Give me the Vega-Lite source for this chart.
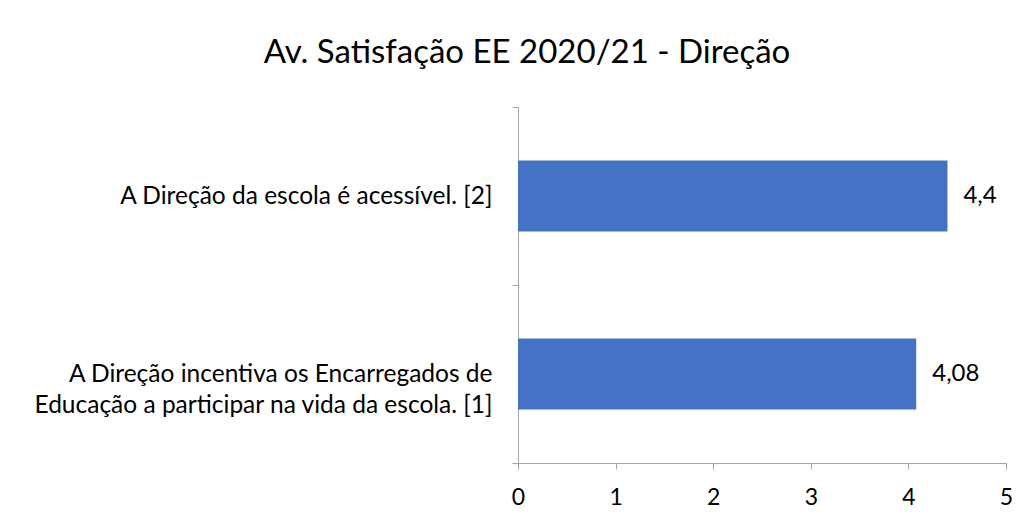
{
  "$schema": "https://vega.github.io/schema/vega-lite/v6.json",
  "autosize": {"type": "none"},
  "padding": {"left": 518, "top": 107, "right": 26, "bottom": 62},
  "width": 488,
  "height": 356,
  "background": "white",
  "config": {
    "font": "Lato",
    "view": {"stroke": null},
    "locale": {"number": {"decimal": ",", "thousands": ".", "grouping": [3], "currency": ["", " €"]}}
  },
  "title": {
    "text": "Av. Satisfação EE 2020/21 - Direção",
    "font": "Lato",
    "fontSize": 33,
    "fontWeight": "normal",
    "color": "#000000",
    "anchor": "middle",
    "frame": "group",
    "baseline": "alphabetic",
    "offset": 42,
    "dy": 44,
    "dx": -235
  },
  "data": {
    "values": [
      {"pergunta": "A Direção da escola é acessível. [2]", "media": 4.4},
      {"pergunta": "A Direção incentiva os Encarregados de|Educação a participar na vida da escola. [1]", "media": 4.08}
    ]
  },
  "encoding": {
    "y": {
      "field": "pergunta",
      "type": "nominal",
      "sort": null,
      "scale": {"paddingInner": 0, "paddingOuter": 0},
      "axis": {
        "title": null,
        "tickBand": "extent",
        "domainColor": "#a6a6a6",
        "tickColor": "#a6a6a6",
        "tickSize": 6,
        "labelFontSize": 24.5,
        "labelColor": "#000000",
        "labelPadding": 20,
        "labelLimit": 600,
        "labelLineHeight": 31,
        "labelExpr": "split(datum.label, '|')",
        "encode": {
          "labels": {
            "update": {
              "align": {"signal": "isString(datum.value) && indexof(datum.value, '|') >= 0 ? 'center' : 'right'"},
              "dx": {"signal": "isString(datum.value) && indexof(datum.value, '|') >= 0 ? -232 : 0"}
            }
          }
        }
      }
    }
  },
  "layer": [
    {
      "mark": {"type": "bar", "color": "#4472C4", "height": {"band": 0.4}},
      "encoding": {
        "x": {
          "field": "media",
          "type": "quantitative",
          "scale": {"domain": [0, 5], "nice": false},
          "axis": {
            "title": null,
            "values": [0, 1, 2, 3, 4, 5],
            "grid": false,
            "domainColor": "#a6a6a6",
            "tickColor": "#a6a6a6",
            "tickSize": 6,
            "labelFontSize": 23,
            "labelColor": "#000000",
            "labelPadding": 17,
            "labelFlush": false,
            "format": "d"
          }
        }
      }
    },
    {
      "mark": {"type": "text", "align": "left", "baseline": "middle", "dx": 16, "fontSize": 24, "color": "#000000"},
      "encoding": {
        "x": {"field": "media", "type": "quantitative"},
        "text": {"field": "media", "type": "quantitative", "format": ".2~f"}
      }
    }
  ]
}
